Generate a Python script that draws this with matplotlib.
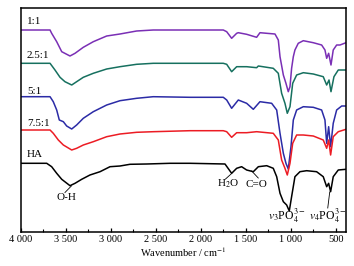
import matplotlib
matplotlib.use("Agg")
import matplotlib.pyplot as plt

plt.rcParams['font.family'] = ['Liberation Serif', 'DejaVu Serif']
plt.rcParams['mathtext.fontset'] = 'stix'

# ---- data (wavenumber cm^-1, relative transmittance with offsets) ----
wn_11 = [4000, 3677, 3659, 3603, 3547, 3455, 3399, 3307, 3196, 3047, 2899, 2714, 2529, 2120,
         1750, 1712, 1657, 1601, 1583, 1490, 1379, 1342, 1267, 1175, 1138, 1119, 1082, 1053,
         1027, 1008, 990, 971, 953, 916, 860, 749, 656, 619, 600, 578, 552, 527, 489, 452, 385]
t_11 = [202, 202, 198.7, 190.3, 180.3, 176, 178.7, 184.7, 190.3, 196, 198, 201, 202, 202,
        202, 200.3, 193.7, 198.7, 199.3, 197.7, 194.7, 199.3, 198.7, 198, 192, 175.3, 157, 148.7,
        140.3, 145.3, 163.7, 175.3, 182, 188.7, 191.3, 189.3, 187, 182, 173.7, 178.7, 167, 182, 187, 187, 189.3]

wn_25 = [4000, 3677, 3622, 3566, 3511, 3436, 3381, 3307, 3196, 3047, 2899, 2714, 2529, 2120,
         1750, 1712, 1657, 1601, 1490, 1379, 1360, 1194, 1138, 1101, 1064, 1038, 1008, 978,
         934, 860, 749, 638, 600, 574, 552, 519, 471, 385]
t_25 = [168.7, 168.7, 162, 154.7, 150.3, 147, 150.3, 154.7, 158.7, 163, 165.3, 167.7, 168.7, 168.7,
        168.7, 167.7, 160.3, 165.3, 165.3, 164.3, 166, 163.7, 158.7, 138.7, 128.7, 118.7, 125.3, 148.7,
        157, 159.3, 158, 155.3, 147, 152, 140.3, 155.3, 162, 162]

wn_5 = [4000, 3677, 3641, 3603, 3574, 3529, 3492, 3436, 3381, 3307, 3196, 3047, 2899, 2714, 2529, 2120,
        1750, 1712, 1657, 1583, 1490, 1416, 1342, 1212, 1156, 1119, 1082, 1053, 1027, 997, 971,
        934, 860, 749, 656, 619, 600, 578, 556, 527, 489, 433, 385]
t_5 = [135.3, 135.3, 130.3, 122, 112, 110.3, 106, 103, 107, 113.7, 120.3, 127, 131.3, 133.7, 135.3, 134.7,
       134.7, 132, 123.7, 132, 128.7, 122.7, 130.3, 128.7, 122, 98.7, 78.7, 68.7, 63, 85.3, 112,
       122, 125.3, 124.7, 122, 112, 88.7, 105.3, 85.3, 108.7, 122, 126, 126]

wn_75 = [4000, 3677, 3641, 3585, 3529, 3436, 3381, 3307, 3196, 3047, 2899, 2714, 2529, 2120,
         1750, 1712, 1657, 1601, 1490, 1379, 1194, 1138, 1101, 1064, 1038, 1008, 978,
         934, 860, 749, 638, 600, 578, 556, 527, 471, 385]
t_75 = [102, 102, 98.7, 92, 87, 82, 83.7, 87, 90.3, 95.3, 98, 99.7, 100.3, 101.3,
        101.3, 100.3, 94.7, 99.3, 99.3, 100.3, 98.7, 92, 72, 63.7, 57, 68.7, 88.7,
        97, 97, 96, 92, 83.7, 92, 77, 95.3, 100.3, 102.7]

wn_ha = [4000, 3714, 3659, 3603, 3547, 3455, 3399, 3325, 3233, 3121, 3010, 2899, 2788, 2602, 2343, 2120,
         1731, 1657, 1601, 1546, 1490, 1416, 1360, 1267, 1194, 1156, 1119, 1082, 1045, 1016, 990,
         953, 897, 823, 712, 638, 600, 578, 556, 527, 471, 385]
t_ha = [68.7, 68.7, 65.3, 58.7, 52.7, 46.3, 48.7, 52.7, 57, 60.3, 65.3, 66, 67.7, 68, 68.7, 68.7,
        68, 58.7, 63.7, 65.3, 62, 60.3, 65.3, 66.3, 63.7, 55.3, 38.7, 30.3, 27, 21, 35.3,
        55.3, 60.3, 61.3, 60.3, 55.3, 45.3, 48.7, 40.3, 55.3, 62, 62.7]

series_labels = ['1:1', '2.5:1', '5:1', '7.5:1', 'HA']
series_colors = ['#7a2fb5', '#16705f', '#2b2ba6', '#ec1c24', '#000000']
label_y = [210, 176, 141, 109, 77.5]

tick_pos = [4000, 3500, 3000, 2500, 2000, 1500, 1000, 500]
tick_labels = ['4 000', '3 500', '3 000', '2 500', '2 000', '1 500', '1 000', '500']
minor_pos = [3750, 3250, 2750, 2250, 1750, 1250, 750]

# ---- figure ----
fig = plt.figure(figsize=(3.54, 2.66), dpi=100)
ax = fig.add_axes([21 / 354, 34 / 266, 325 / 354, 224 / 266])

xs = [wn_11, wn_25, wn_5, wn_75, wn_ha]
ys = [t_11, t_25, t_5, t_75, t_ha]
for wx, ty, lab, col, ly in zip(xs, ys, series_labels, series_colors, label_y):
    ax.plot(wx, ty, color=col, lw=1.1)
    ax.text(3935, ly, lab, fontsize=8, ha='left', va='center')

ax.set_xlim(4000, 385)
ax.set_ylim(0, 224)
ax.set_xticks(tick_pos)
ax.set_xticklabels(tick_labels, fontsize=7.5)
ax.set_xticks(minor_pos, minor=True)
ax.set_yticks([])
ax.tick_params(axis='x', which='major', direction='in', length=3, width=0.9, pad=2)
ax.tick_params(axis='x', which='minor', direction='in', length=2, width=0.8)
for s in ax.spines.values():
    s.set_linewidth(1.1)
ax.set_xlabel('Wavenumber / cm$^{-1}$', fontsize=7.5, labelpad=1)

# annotations
ax.plot([3440, 3511], [46, 39.5], color='black', lw=0.6)
ax.text(3500, 34, 'O-H', fontsize=8, ha='center', va='center')
ax.plot([1657, 1725], [58.5, 53], color='black', lw=0.6)
ax.text(1698, 48, 'H$_2$O', fontsize=8, ha='center', va='center')
ax.plot([1434, 1361], [61, 54], color='black', lw=0.6)
ax.text(1386, 47.5, 'C=O', fontsize=8, ha='center', va='center')
ax.text(1040, 16, '$v_3$PO$_4^{3-}$', fontsize=8.5, ha='center', va='center')
ax.plot([566, 588], [40, 24], color='black', lw=0.6)
ax.text(588, 16, '$v_4$PO$_4^{3-}$', fontsize=8.5, ha='center', va='center')

fig.savefig('out.png', dpi=100)
